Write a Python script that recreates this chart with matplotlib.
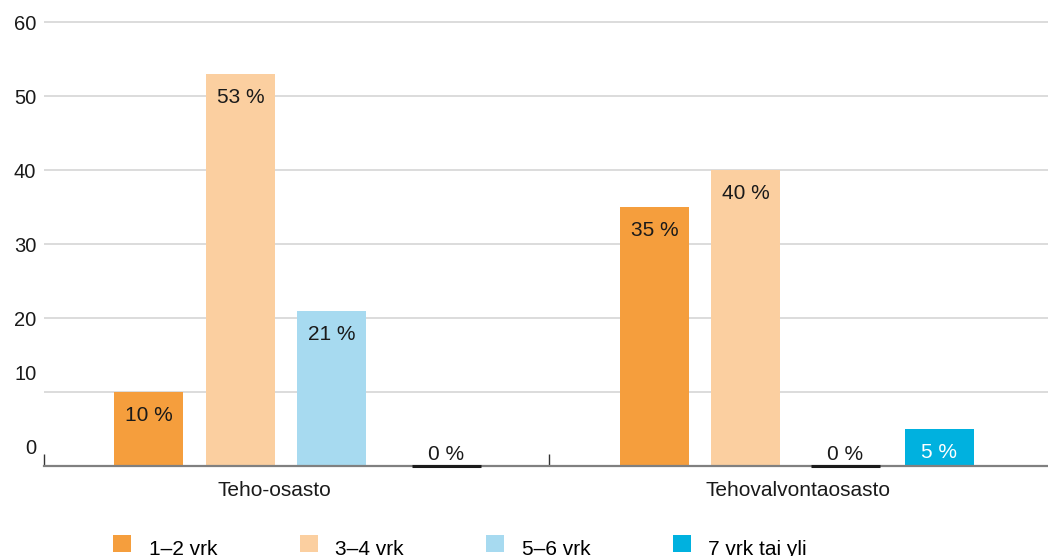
import numpy as np
import matplotlib.pyplot as plt
import matplotlib.transforms as mtransforms

plt.rcParams['font.family'] = ['Liberation Sans', 'DejaVu Sans']

# data
ryhmat = ['Teho-osasto', 'Tehovalvontaosasto']
sarjat = ['1–2 vrk', '3–4 vrk', '5–6 vrk', '7 vrk tai yli']
arvot = [
    [10, 35],   # 1-2 vrk
    [53, 40],   # 3-4 vrk
    [21, 0],    # 5-6 vrk
    [0, 5],     # 7 vrk tai yli
]
varit = ['#F59E3D', '#FBCFA0', '#A7DAF0', '#00B1DF']
tekstivarit = ['#1a1a1a', '#1a1a1a', '#1a1a1a', 'white']
yticks = [0, 10, 20, 30, 40, 50, 60]

# bar offsets inside each group (category units), bar width
siirto = [
    [-0.293, -0.291],
    [-0.111, -0.111],
    [0.069, 0.087],
    [0.297, 0.273],
]
leveys = 0.137

fig = plt.figure(figsize=(10.48, 5.56), dpi=100)
ax = fig.add_axes([44/1048, 90/556, 1 - 44/1048, 447.7/556])

x = np.arange(len(ryhmat))
for i, s in enumerate(sarjat):
    xs = x + np.array(siirto[i])
    ax.bar(xs, arvot[i], leveys, color=varit[i], label=s, zorder=3)
    for xi, v in zip(xs, arvot[i]):
        if v == 0:
            ax.hlines(v, xi - leveys/2, xi + leveys/2, color='#1a1a1a', lw=2.2,
                      zorder=5, clip_on=False)
            ax.annotate(f'{v} %', (xi, v), xytext=(0, 8.5), textcoords='offset points',
                        ha='center', va='center', fontsize=15, color='#1a1a1a')
        else:
            ax.annotate(f'{v} %', (xi, v), xytext=(0, -17), textcoords='offset points',
                        ha='center', va='center', fontsize=15, color=tekstivarit[i])

ax.set_yticks(yticks)
ax.set_yticklabels([str(t) for t in yticks], fontsize=14.5, color='#1a1a1a')
ax.tick_params(axis='y', length=0, pad=5.5)
# lower labels sit a bit above their gridlines
for lab, t in zip(ax.get_yticklabels(), yticks):
    if t <= 10:
        lab.set_transform(lab.get_transform() + mtransforms.ScaledTranslation(0, 0.2, fig.dpi_scale_trans))

ax.set_xticks(x)
ax.set_xticklabels(ryhmat, fontsize=15, color='#1a1a1a')
ax.set_xticks([-0.5, 0.5, 1.5], minor=True)
ax.tick_params(axis='x', which='major', length=0, pad=11)
ax.tick_params(axis='x', which='minor', direction='in', length=9, width=1, color='#333333')
# group names are not quite centred in the original
for lab, dx in zip(ax.get_xticklabels(), [-0.22, -0.035]):
    lab.set_transform(lab.get_transform() + mtransforms.ScaledTranslation(dx, 0, fig.dpi_scale_trans))

ax.set_xlim(-0.5, (1048 - 44)/505 - 0.5)
ax.set_ylim(0, 60.5)

ax.grid(axis='y', color='#d9d9d9', lw=1.3, zorder=0)
for sp in ['top', 'right', 'left']:
    ax.spines[sp].set_visible(False)
ax.spines['bottom'].set_color('#808080')
ax.spines['bottom'].set_linewidth(1.6)
ax.spines['bottom'].set_zorder(4)

leg = fig.legend(loc='upper left', bbox_to_anchor=(113/1048, 17/556), ncol=4, frameon=False,
                 fontsize=15, handlelength=0.864, handleheight=0.864, handletextpad=0.85,
                 columnspacing=3.95, borderaxespad=0, borderpad=0)
for p in leg.get_patches():
    p.set_y(p.get_y() + 3)

fig.savefig('out.png', dpi=100)
